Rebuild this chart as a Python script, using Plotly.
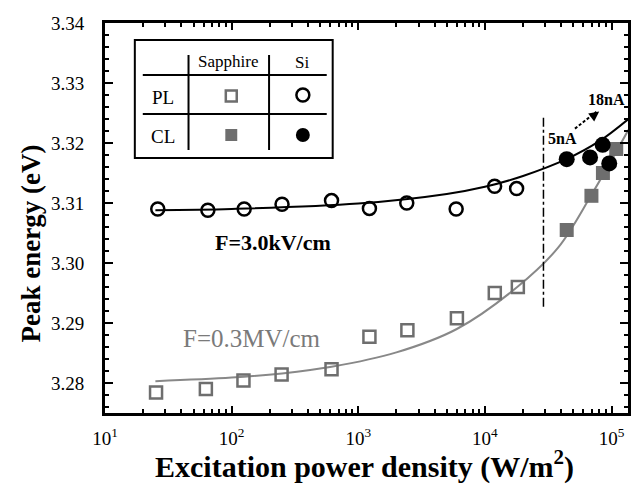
import plotly.graph_objects as go

# ---------------- data ----------------
si_pl_x = [26.1, 64.9, 125.6, 250, 615, 1225, 2415, 5930, 11930, 17800]
si_pl_y = [3.3090, 3.3088, 3.3090, 3.3098, 3.3104, 3.3091, 3.3100, 3.3090, 3.3128, 3.3124]

sap_pl_x = [25.3, 62.6, 124, 248, 615, 1225, 2443, 6010, 11970, 18200]
sap_pl_y = [3.2784, 3.2790, 3.2804, 3.2814, 3.2823, 3.2877, 3.2888, 3.2908, 3.2950, 3.2960]

sap_cl_x = [44260, 69380, 85500, 108900]
sap_cl_y = [3.3055, 3.3112, 3.3150, 3.3190]

si_cl_x = [44260, 67660, 85100, 95900]
si_cl_y = [3.3173, 3.3176, 3.3197, 3.3166]

# fit curves
fit_si_x = [25, 100, 1000, 5000, 10000, 20000, 44000, 80000, 136000]
fit_si_y = [3.3088, 3.3090, 3.3099, 3.3115, 3.3127, 3.3145, 3.3173, 3.3203, 3.3240]

fit_sap_x = [25, 100, 250, 615, 2000, 6000, 18000, 38000, 70000, 136000]
fit_sap_y = [3.2803, 3.2809, 3.2816, 3.2827, 3.2851, 3.2890, 3.2960, 3.3026, 3.3115, 3.3222]

# vertical dash-dot marker and dashed arrow
vline_x = [29000, 29000]
vline_y = [3.2927, 3.3244]
arrow_x = [51400, 75900]
arrow_y = [3.3224, 3.3252]

x_tickvals = [10, 100, 1000, 10000, 100000]
x_ticktext = ["10<sup>1</sup>", "10<sup>2</sup>", "10<sup>3</sup>", "10<sup>4</sup>", "10<sup>5</sup>"]
x_minor = [m * 10 ** d for d in range(1, 6) for m in range(2, 10)]

SERIF = "Liberation Serif"
GRAY = "#6e6e6e"
LGRAY = "#888888"

# plot-area pixel geometry for paper-coordinate helpers
L, R, T, B = 105, 631, 23, 413


def px(x):
    return (x - L) / (R - L)


def py(y):
    return (B - y) / (B - T)


fig = go.Figure()

fig.add_trace(go.Scatter(x=fit_sap_x, y=fit_sap_y, mode="lines", line=dict(color=LGRAY, width=2, shape="spline"),
                         showlegend=False, hoverinfo="skip"))
fig.add_trace(go.Scatter(x=fit_si_x, y=fit_si_y, mode="lines", line=dict(color="black", width=2, shape="spline"),
                         showlegend=False, hoverinfo="skip"))
fig.add_trace(go.Scatter(x=vline_x, y=vline_y, mode="lines", line=dict(color="black", width=1.5, dash="dashdot"),
                         showlegend=False, hoverinfo="skip"))
fig.add_trace(go.Scatter(x=arrow_x, y=arrow_y, mode="lines", line=dict(color="black", width=2, dash="3px,2px"),
                         showlegend=False, hoverinfo="skip"))

fig.add_trace(go.Scatter(x=sap_pl_x, y=sap_pl_y, mode="markers",
                         marker=dict(symbol="square-open", size=12, color=GRAY, line=dict(width=2.5)),
                         name="Sapphire PL", showlegend=False))
fig.add_trace(go.Scatter(x=si_pl_x, y=si_pl_y, mode="markers",
                         marker=dict(symbol="circle-open", size=13, color="black", line=dict(width=2.5)),
                         name="Si PL", showlegend=False))
fig.add_trace(go.Scatter(x=sap_cl_x, y=sap_cl_y, mode="markers",
                         marker=dict(symbol="square", size=14, color=GRAY),
                         name="Sapphire CL", showlegend=False))
fig.add_trace(go.Scatter(x=si_cl_x, y=si_cl_y, mode="markers",
                         marker=dict(symbol="circle", size=16, color="black"),
                         name="Si CL", showlegend=False))

shapes = []
# legend table
shapes.append(dict(type="rect", xref="paper", yref="paper", x0=px(135), x1=px(334), y0=py(40), y1=py(158),
                   line=dict(color="black", width=2)))
for xv in (189, 270):
    shapes.append(dict(type="line", xref="paper", yref="paper", x0=px(xv), x1=px(xv), y0=py(55), y1=py(150),
                       line=dict(color="black", width=2)))
for yv in (75, 114):
    shapes.append(dict(type="line", xref="paper", yref="paper", x0=px(143), x1=px(328), y0=py(yv), y1=py(yv),
                       line=dict(color="black", width=2)))
shapes.append(dict(type="rect", xref="paper", yref="paper", x0=px(226.5), x1=px(237.5), y0=py(101.5), y1=py(90.5),
                   line=dict(color=GRAY, width=2.5)))
shapes.append(dict(type="rect", xref="paper", yref="paper", x0=px(226), x1=px(238), y0=py(141), y1=py(129),
                   line=dict(color=GRAY, width=0), fillcolor=GRAY))
shapes.append(dict(type="circle", xref="paper", yref="paper", x0=px(297.5), x1=px(310.5), y0=py(101.5), y1=py(88.5),
                   line=dict(color="black", width=2.5)))
shapes.append(dict(type="circle", xref="paper", yref="paper", x0=px(297), x1=px(311), y0=py(142), y1=py(128),
                   line=dict(color="black", width=0), fillcolor="black"))

annotations = []


def txt(x, y, s, size, color="black", bold=False, yanchor="middle", textangle=0):
    annotations.append(dict(xref="paper", yref="paper", x=px(x), y=py(y), text=("<b>%s</b>" % s) if bold else s,
                            showarrow=False, xanchor="center", yanchor=yanchor, textangle=textangle,
                            font=dict(family=SERIF, size=size, color=color)))


txt(229, 62, "Sapphire", 17)
txt(303, 63, "Si", 17)
txt(163, 97, "PL", 19)
txt(163, 136, "CL", 19)
txt(274, 242, "F=3.0kV/cm", 22, bold=True)
txt(253, 338, "F=0.3MV/cm", 25, color="#7a7a7a")
txt(565, 138, "5nA", 16, bold=True)
txt(609, 100, "18nA", 16, bold=True)
txt(366, 486, "Excitation power density (W/m<sup>2</sup>)", 30, bold=True, yanchor="bottom")
txt(31, 243, "Peak energy (eV)", 27, bold=True, textangle=-90)

# arrowhead for the dashed arrow
annotations.append(dict(xref="paper", yref="paper", x=px(602), y=py(111.5), ax=-8, ay=6, axref="pixel", ayref="pixel",
                        text="", showarrow=True, arrowhead=2, arrowsize=1, arrowwidth=2, arrowcolor="black"))

fig.update_layout(
    width=637, height=487,
    margin=dict(l=L, r=637 - R, t=T, b=487 - B),
    paper_bgcolor="white", plot_bgcolor="white",
    shapes=shapes, annotations=annotations,
    showlegend=False,
    font=dict(family=SERIF, color="black"),
)

fig.update_xaxes(
    type="log", range=[1, 5.13],
    showline=True, linewidth=3, linecolor="black", mirror="ticks",
    showgrid=False, zeroline=False,
    ticks="inside", ticklen=7, tickwidth=2, tickcolor="black",
    tickvals=x_tickvals, ticktext=x_ticktext,
    tickfont=dict(family=SERIF, size=19, color="black"),
    ticklabelstandoff=6,
    minor=dict(tickvals=x_minor, ticks="inside", ticklen=4, tickwidth=2, tickcolor="black", showgrid=False),
)
fig.update_yaxes(
    range=[3.275, 3.34],
    showline=True, linewidth=3, linecolor="black", mirror="ticks",
    showgrid=False, zeroline=False,
    ticks="inside", ticklen=8, tickwidth=2, tickcolor="black",
    tick0=3.28, dtick=0.01, tickformat=".2f",
    tickfont=dict(family=SERIF, size=19, color="black"),
    ticklabelstandoff=14,
    minor=dict(dtick=0.002, ticks="inside", ticklen=4, tickwidth=2, tickcolor="black", showgrid=False),
)

fig.write_html("out.html", config={"displayModeBar": False},
               post_script="document.body.style.margin='0';document.body.style.overflow='hidden';")
